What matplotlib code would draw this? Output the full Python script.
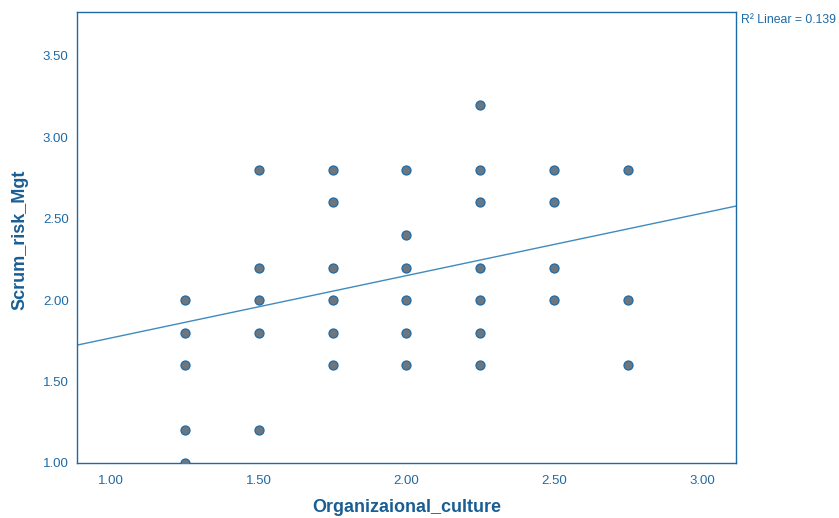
import matplotlib.pyplot as plt

plt.rcParams['font.family'] = ['Liberation Sans', 'DejaVu Sans']

# organizational culture score -> scrum risk management scores observed
culture = [1.25] * 5 + [1.50] * 5 + [1.75] * 6 + [2.00] * 6 + [2.25] * 7 + [2.50] * 4 + [2.75] * 3
risk = [2.0, 1.8, 1.6, 1.2, 1.0,
        2.8, 2.2, 2.0, 1.8, 1.2,
        2.8, 2.6, 2.2, 2.0, 1.8, 1.6,
        2.8, 2.4, 2.2, 2.0, 1.8, 1.6,
        3.2, 2.8, 2.6, 2.2, 2.0, 1.8, 1.6,
        2.8, 2.6, 2.2, 2.0,
        2.8, 2.0, 1.6]

fit_intercept = 1.385
fit_slope = 0.383
r_squared = 0.139

x_ticks = [1.00, 1.50, 2.00, 2.50, 3.00]
y_ticks = [1.00, 1.50, 2.00, 2.50, 3.00, 3.50]

blue = '#1f6aa5'
label_blue = '#1a5e93'

fig = plt.figure(figsize=(8.39, 5.18), dpi=100)
ax = fig.add_axes([0.0918, 0.1062, 0.7854, 0.8706])

ax.scatter(culture, risk, s=42, facecolor='#6b767e', edgecolor=blue,
           linewidth=0.9, zorder=3)

xlim = (0.885, 3.115)
ax.plot(xlim, [fit_intercept + fit_slope * v for v in xlim],
        color='#3f8bbf', linewidth=1.0, zorder=2)

ax.set_xlim(*xlim)
ax.set_ylim(1.0, 3.77)
ax.set_xticks(x_ticks)
ax.set_yticks(y_ticks)
ax.set_xticklabels(['%.2f' % v for v in x_ticks])
ax.set_yticklabels(['%.2f' % v for v in y_ticks])
ax.tick_params(length=0, colors=blue, labelsize=9.5)
ax.tick_params(axis='y', pad=6)
ax.tick_params(axis='x', pad=9)
for s in ax.spines.values():
    s.set_color(blue)
    s.set_linewidth(1.0)

ax.set_xlabel('Organizaional_culture', fontsize=13, fontweight='bold',
              color=label_blue)
ax.set_ylabel('Scrum_risk_Mgt', fontsize=13, fontweight='bold',
              color=label_blue)
ax.xaxis.set_label_coords(0.5, -0.0998)
ax.yaxis.set_label_coords(-0.0865, 0.494)
ax.xaxis.label.set_va('center')
ax.yaxis.label.set_va('center')

fig.text(741 / 839, 1 - 20 / 518, 'R\u00b2 Linear = %.3f' % r_squared,
         fontsize=8.8, color=blue, va='center', ha='left')

fig.savefig('out.png', dpi=100)
